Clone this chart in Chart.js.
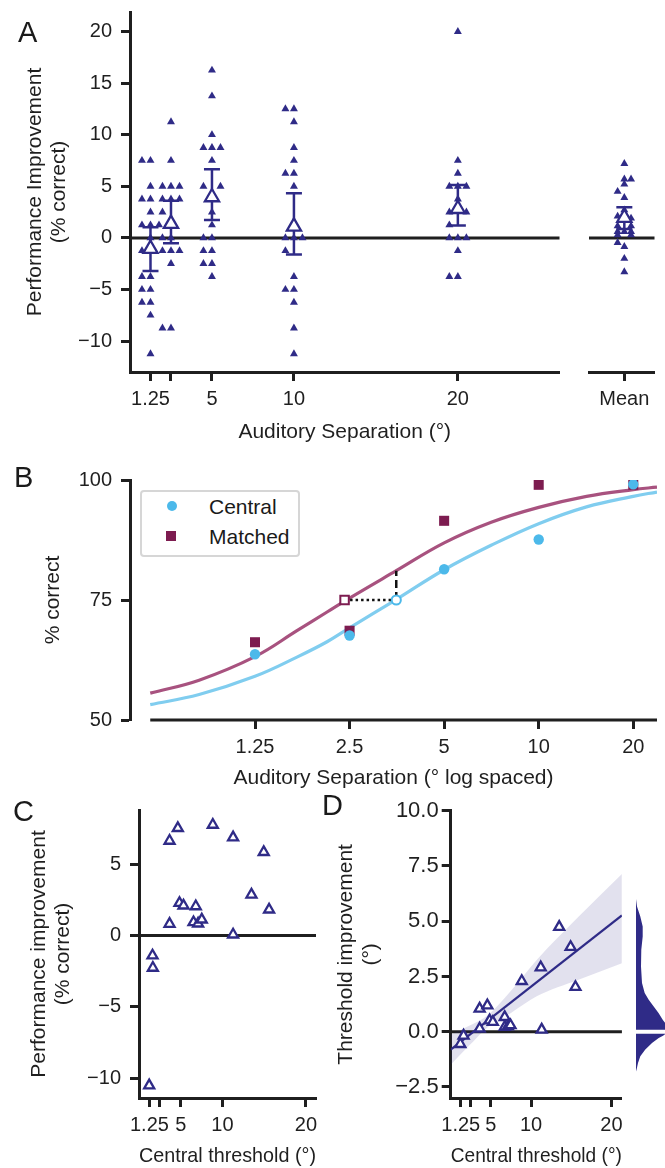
<!DOCTYPE html>
<html>
<head>
<meta charset="utf-8">
<title>Auditory separation figure</title>
<script src="https://cdn.jsdelivr.net/npm/chart.js@4.4.1/dist/chart.umd.min.js"></script>
<style>
  html, body { margin: 0; padding: 0; background: #fff; }
  body { position: relative; width: 665px; height: 1168px; overflow: hidden; font-family: "Liberation Sans", Arial, sans-serif; color: #1a1a1a; }
  canvas { position: absolute; }
  .panel { position: absolute; font-size: 29px; line-height: 29px; }
  .legend { position: absolute; left: 140px; top: 490px; width: 156px; height: 63px; border: 2px solid #d6d6d6; border-radius: 4px; background: #fff; }
  .key { position: absolute; font-size: 21px; line-height: 25px; white-space: nowrap; }
  .dot { position: absolute; width: 10px; height: 10px; }
</style>
</head>
<body>
<canvas id="chartA" style="left:0;top:0" width="570" height="460"></canvas>
<canvas id="chartMean" style="left:575px;top:0" width="90" height="460"></canvas>
<canvas id="chartB" style="left:0;top:440px" width="665" height="360"></canvas>
<canvas id="chartC" style="left:0;top:780px" width="330" height="388"></canvas>
<canvas id="chartD" style="left:330px;top:780px" width="300" height="388"></canvas>
<canvas id="chartKde" style="left:636px;top:780px" width="29" height="388"></canvas>

<div class="panel" style="left:18px;top:18px">A</div>
<div class="panel" style="left:14px;top:463px">B</div>
<div class="panel" style="left:13px;top:797px">C</div>
<div class="panel" style="left:322px;top:791px">D</div>

<div class="legend"></div>
<div class="dot" style="left:167px;top:501px;border-radius:50%;background:#4cb9ea"></div>
<div class="key" style="left:209px;top:494px">Central</div>
<div class="dot" style="left:166px;top:531px;background:#7d1c50"></div>
<div class="key" style="left:209px;top:524px">Matched</div>

<script>
// ---------- panel A: improvement per subject at each separation ----------
const sepTicks = [1.25, 2.5, 5, 10, 20];
const imp125 = [7.5, 7.5, 5, 3.75, 3.75, 2.5, 1.25, 1.25, 1.25, 0, -1.25, -1.25, -3.75, -3.75, -5, -5, -6.25, -6.25, -7.5, -11.25];
const slot125 = [-1, 0, 0, -1, 0, 0, -1, 0, 1, 0, -1, 0, -1, 0, -1, 0, -1, 0, 0, 0];
const imp25 = [11.25, 7.5, 5, 5, 5, 3.75, 3.75, 3.75, 2.5, 0, 0, -1.25, -1.25, -1.25, -2.5, -8.75, -8.75];
const slot25 = [0, 0, -1, 0, 1, -1, 0, 1, -1, -1, 0, -1, 0, 1, 0, -1, 0];
const imp5 = [16.25, 13.75, 10, 8.75, 8.75, 8.75, 7.5, 5, 5, 3.75, 2.5, 1.25, 0, 0, -1.25, -1.25, -2.5, -2.5, -3.75];
const slot5 = [0, 0, 0, -1, 0, 1, 0, -1, 1, 0, 0, 0, -1, 0, -1, 0, -1, 0, 0];
const imp10 = [12.5, 12.5, 11.25, 8.75, 7.5, 6.25, 6.25, 5, 0, 0, 0, -1.25, -3.75, -5, -5, -6.25, -8.75, -11.25];
const slot10 = [-1, 0, 0, 0, 0, -1, 0, 0, -1, 0, 1, -1, 0, -1, 0, 0, 0, 0];
const imp20 = [20, 7.5, 6.25, 5, 5, 5, 3.75, 2.5, 2.5, 1.25, 0, 0, 0, -1.25, -3.75, -3.75];
const slot20 = [0, 0, 0, -1, 0, 1, 0, -1, 1, -1, -1, 0, 1, 0, -1, 0];

const meanImp = [-1.05, 1.36, 3.95, 1.1, 2.81];
const semLow = [-3.2, -0.53, 1.74, -1.6, 1.2];
const semHigh = [1.03, 3.6, 6.65, 4.33, 5.13];

const subjMean = [7.2, 5.7, 5.7, 5.2, 4.5, 3.9, 2.7, 2.1, 1.9, 1.15, 1.15, 0.6, 0.6, 0.6, 0.28, 0.28, -0.46, -0.85, -2.0, -3.3];
const slotMean = [0, 0, 1, 0, -1, 0, 0, -1, 1, -1, 1, -1, 0, 1, -1, 1, -1, 0, 0, 0];
const grandMean = 1.96, grandLow = 0.86, grandHigh = 2.97;

// ---------- panel B: psychometric data and fitted curves ----------
const centralPct = [63.7, 67.6, 81.4, 87.6, 99.1];
const matchedPct = [66.2, 68.6, 91.5, 99.0, 99.0];
const curveSep = [0.58, 0.83, 1.25, 1.7, 2.12, 2.5, 3.52, 5, 7.06, 10, 14.2, 20, 23.8];
const centralFit = [53.2, 55.3, 59.1, 63.1, 66.3, 69.2, 75.1, 81.3, 86.4, 90.9, 94.4, 96.6, 97.5];
const matchedFit = [55.6, 58.3, 63.2, 68.6, 72.5, 75.4, 81.1, 86.9, 91.2, 94.3, 96.6, 98.0, 98.5];
const thrCentral = 3.52, thrMatched = 2.41, thrLevel = 75, matchedAtThr = 81.1;

// ---------- panel C: improvement vs central threshold ----------
const cThreshold = [1.22, 1.62, 1.66, 3.66, 4.65, 3.66, 4.85, 5.33, 6.8, 6.53, 7.08, 7.52, 8.84, 11.27, 11.27, 13.47, 14.94, 15.58];
const cImprove = [-10.5, -1.4, -2.26, 6.64, 7.53, 0.82, 2.28, 2.1, 2.05, 0.93, 0.84, 1.12, 7.76, 0.07, 6.88, 2.87, 5.85, 1.82];

// ---------- panel D: threshold improvement vs central threshold ----------
const dThreshold = [1.2, 1.6, 3.6, 3.6, 4.56, 4.84, 5.24, 6.72, 6.72, 7.12, 7.44, 8.84, 11.32, 11.2, 13.5, 14.92, 15.52];
const dImprove = [-0.56, -0.18, 0.14, 1.04, 1.19, 0.51, 0.44, 0.66, 0.21, 0.24, 0.29, 2.29, 0.09, 2.91, 4.74, 3.83, 2.02];
const fitX = [0, 21.3];
const fitY = [-0.81, 5.26];
const bandX = [0, 2.3, 4.7, 7.5, 10.7, 15.9, 21.3];
const bandHigh = [-0.13, 0.27, 0.77, 1.85, 3.25, 5.2, 7.14];
const bandLow = [-1.49, -0.63, 0.24, 0.85, 1.6, 2.35, 3.1];
// density of threshold improvement (width in px units), split at zero
const kdeUpperY = [6.0, 5.66, 5.21, 4.76, 4.31, 3.71, 2.95, 2.2, 1.75, 1.45, 1.14, 0.84, 0.54, 0.24, 0.09];
const kdeUpperW = [0, 1, 4.3, 6.7, 6.7, 5.3, 5, 6, 8.7, 12.7, 17.7, 22.7, 26.7, 32, 34];
const kdeLowerY = [-0.09, -0.18, -0.29, -0.51, -0.81, -1.11, -1.42, -1.69, -1.8];
const kdeLowerW = [30, 27, 22.7, 16, 9.3, 4.3, 2, 0.7, 0];

const navy = '#2f2b87';
const ink = '#1f1f1f';
const sky = '#4cb9ea', skyLine = '#80cdef';
const plum = '#7d1c50', plumLine = '#a8527f';

Chart.defaults.font.family = '"Liberation Sans", Arial, sans-serif';
Chart.defaults.color = ink;
Chart.defaults.animation = false;
Chart.defaults.responsive = false;
Chart.defaults.events = [];
Chart.defaults.plugins.legend.display = false;
Chart.defaults.plugins.tooltip.enabled = false;

const minusFmt = v => (v < 0 ? '\u2212' + Math.abs(v) : String(v));
const oneDecFmt = v => (v < 0 ? '\u2212' : '') + Math.abs(v).toFixed(1);
const sepFmt = v => (v === 2.5 ? '' : String(v));

function spine(o) {
  return {
    type: o.type || 'linear',
    min: o.min, max: o.max,
    border: {display: o.border !== false, color: ink, width: 3},
    grid: {display: true, drawOnChartArea: false, drawTicks: true, tickLength: 9, tickWidth: 3, tickColor: ink},
    ticks: {color: ink, font: {size: o.fontSize || 20}, padding: o.pad, autoSkip: false, maxRotation: 0, minRotation: 0, callback: o.fmt},
    title: o.title ? {display: true, text: o.title, color: ink, font: {size: 21, lineHeight: 1.15}, padding: o.titlePad} : {display: false},
    afterBuildTicks: s => { s.ticks = o.tickValues.map(v => ({value: v})); },
    afterFit: s => {
      if (s.isHorizontal()) { s.height = o.size; s.paddingLeft = 0; s.paddingRight = 0; }
      else { s.width = o.size; s.paddingTop = 0; s.paddingBottom = 0; }
    }
  };
}

const zeroLine = {
  id: 'zeroLine',
  beforeDatasetsDraw(chart) {
    const {ctx, chartArea: a, scales: {y}} = chart;
    const py = y.getPixelForValue(0);
    ctx.save();
    ctx.strokeStyle = ink;
    ctx.lineWidth = 3;
    ctx.beginPath();
    ctx.moveTo(a.left, py);
    ctx.lineTo(a.right, py);
    ctx.stroke();
    ctx.restore();
  }
};

const trimmedXSpine = {
  id: 'trimmedXSpine',
  afterDraw(chart, args, opts) {
    const {ctx, chartArea: a, scales: {x}} = chart;
    ctx.save();
    ctx.strokeStyle = ink;
    ctx.lineWidth = 3;
    ctx.beginPath();
    ctx.moveTo(x.getPixelForValue(opts.from), a.bottom);
    ctx.lineTo(a.right, a.bottom);
    ctx.stroke();
    ctx.restore();
  }
};

function errorBar(x, lo, hi) {
  return {data: [{x: x, y: lo}, {x: x, y: hi}], showLine: true, borderColor: navy, borderWidth: 2.5,
    pointStyle: 'line', pointRadius: 8, pointBorderWidth: 2.5, pointBorderColor: navy, order: 1};
}

function openTriangles(points, r) {
  return {data: points, pointStyle: 'triangle', pointRadius: r, pointBorderWidth: 2.3,
    pointBorderColor: navy, pointBackgroundColor: '#fff', order: 0};
}

// ----- A -----
const cols = [imp125, imp25, imp5, imp10, imp20];
const slots = [slot125, slot25, slot5, slot10, slot20];
const subjectPoints = cols.flatMap((vals, c) => vals.map((v, i) => ({x: sepTicks[c] + slots[c][i] * 0.52, y: v})));

new Chart(document.getElementById('chartA'), {
  type: 'scatter',
  data: {datasets: [
    openTriangles(sepTicks.map((s, i) => ({x: s, y: meanImp[i]})), 8.2),
    ...sepTicks.map((s, i) => errorBar(s, semLow[i], semHigh[i])),
    {data: subjectPoints, pointStyle: 'triangle', pointRadius: 4.6, pointBorderWidth: 0, pointBackgroundColor: navy, order: 2}
  ]},
  options: {
    layout: {padding: {top: 12, right: 3, left: 0, bottom: 0}},
    scales: {
      x: spine({min: 0, max: 26.2, tickValues: sepTicks, fmt: sepFmt, size: 88, pad: 6,
        title: 'Auditory Separation (°)', titlePad: {top: 0, bottom: 15.9}}),
      y: spine({min: -13, max: 21.9, tickValues: [-10, -5, 0, 5, 10, 15, 20], fmt: minusFmt, size: 130, pad: 9,
        title: ['Performance Improvement', '(% correct)'], titlePad: {top: 22.9, bottom: 0}})
    }
  },
  plugins: [zeroLine]
});

new Chart(document.getElementById('chartMean'), {
  type: 'scatter',
  data: {datasets: [
    openTriangles([{x: 1, y: grandMean}], 8.2),
    errorBar(1, grandLow, grandHigh),
    {data: subjMean.map((v, i) => ({x: 1 + slotMean[i] * 0.19, y: v})), pointStyle: 'triangle', pointRadius: 4.6,
      pointBorderWidth: 0, pointBackgroundColor: navy, order: 2}
  ]},
  options: {
    layout: {padding: {top: 12, right: 0, left: 14, bottom: 0}},
    scales: {
      x: spine({min: 0, max: 1.854, tickValues: [1], fmt: () => 'Mean', size: 88, pad: 6}),
      y: {display: false, min: -13, max: 21.9}
    }
  },
  plugins: [zeroLine]
});

// ----- B -----
new Chart(document.getElementById('chartB'), {
  type: 'scatter',
  data: {datasets: [
    {data: [{x: thrCentral, y: thrLevel}], pointStyle: 'circle', pointRadius: 4.6, pointBorderWidth: 2,
      pointBorderColor: sky, pointBackgroundColor: '#fff', order: 0},
    {data: [{x: thrMatched, y: thrLevel}], pointStyle: 'rect', pointRadius: 6, pointBorderWidth: 2,
      pointBorderColor: plum, pointBackgroundColor: '#fff', order: 0},
    {data: sepTicks.map((s, i) => ({x: s, y: centralPct[i]})), pointStyle: 'circle', pointRadius: 5.2,
      pointBorderWidth: 0, pointBackgroundColor: sky, order: 1},
    {data: sepTicks.map((s, i) => ({x: s, y: matchedPct[i]})), pointStyle: 'rect', pointRadius: 7.1,
      pointBorderWidth: 0, pointBackgroundColor: plum, order: 2},
    {data: [{x: thrMatched, y: thrLevel}, {x: thrCentral, y: thrLevel}], showLine: true, borderColor: '#111',
      borderWidth: 2.5, borderDash: [2.5, 3], pointRadius: 0, order: 3},
    {data: [{x: thrCentral, y: thrLevel}, {x: thrCentral, y: matchedAtThr}], showLine: true, borderColor: '#111',
      borderWidth: 2.5, borderDash: [8, 4], pointRadius: 0, order: 3},
    {data: curveSep.map((s, i) => ({x: s, y: centralFit[i]})), showLine: true, borderColor: skyLine, borderWidth: 3.2,
      tension: 0.4, pointRadius: 0, order: 4},
    {data: curveSep.map((s, i) => ({x: s, y: matchedFit[i]})), showLine: true, borderColor: plumLine, borderWidth: 3.2,
      tension: 0.4, pointRadius: 0, order: 4}
  ]},
  options: {
    layout: {padding: {top: 40, right: 0, left: 0, bottom: 0}},
    plugins: {trimmedXSpine: {from: curveSep[0]}},
    scales: {
      x: spine({type: 'logarithmic', min: 0.5, max: 23.8, tickValues: sepTicks, fmt: v => String(v), size: 80, pad: 6,
        border: false, title: 'Auditory Separation (° log spaced)', titlePad: {top: 0, bottom: 9.9}}),
      y: spine({min: 50, max: 100, tickValues: [50, 75, 100], fmt: v => String(v), size: 130, pad: 9,
        title: '% correct', titlePad: {top: 41, bottom: 0}})
    }
  },
  plugins: [trimmedXSpine]
});

// ----- C -----
new Chart(document.getElementById('chartC'), {
  type: 'scatter',
  data: {datasets: [
    openTriangles(cThreshold.map((t, i) => ({x: t, y: cImprove[i]})), 5.8)
  ]},
  options: {
    layout: {padding: {top: 30, right: 14, left: 0, bottom: 0}},
    scales: {
      x: spine({min: 0, max: 21.2, tickValues: sepTicks, fmt: sepFmt, size: 70, pad: 6,
        title: 'Central threshold (°)', titlePad: {top: 0, bottom: 0}}),
      y: spine({min: -11.38, max: 8.8, tickValues: [-10, -5, 0, 5], fmt: minusFmt, size: 139, pad: 9,
        title: ['Performance improvement', '(% correct)'], titlePad: {top: 27.4, bottom: 0}})
    }
  },
  plugins: [zeroLine]
});

// ----- D -----
new Chart(document.getElementById('chartD'), {
  type: 'scatter',
  data: {datasets: [
    openTriangles(dThreshold.map((t, i) => ({x: t, y: dImprove[i]})), 5.8),
    {data: fitX.map((x, i) => ({x: x, y: fitY[i]})), showLine: true, borderColor: navy, borderWidth: 2.2, pointRadius: 0, order: 1},
    {data: bandX.map((x, i) => ({x: x, y: bandHigh[i]})), showLine: true, borderWidth: 0, pointRadius: 0,
      cubicInterpolationMode: 'monotone', fill: '+1', backgroundColor: 'rgba(47,43,135,0.14)', order: 2},
    {data: bandX.map((x, i) => ({x: x, y: bandLow[i]})), showLine: true, borderWidth: 0, pointRadius: 0,
      cubicInterpolationMode: 'monotone', fill: false, order: 3}
  ]},
  options: {
    layout: {padding: {top: 30.7, right: 1.7, left: 0, bottom: 0}},
    scales: {
      x: spine({min: 0, max: 21.3, tickValues: sepTicks, fmt: sepFmt, size: 70, pad: 6,
        title: 'Central threshold (°)', titlePad: {top: 0, bottom: 0}}),
      y: spine({min: -3, max: 10, tickValues: [-2.5, 0, 2.5, 5, 7.5, 10], fmt: oneDecFmt, size: 120.7, pad: 3, fontSize: 22,
        title: ['Threshold improvement', '(°)'], titlePad: {top: 4.6, bottom: 0}})
    }
  },
  plugins: [zeroLine]
});

// marginal density beside D
new Chart(document.getElementById('chartKde'), {
  type: 'scatter',
  data: {datasets: [
    {data: [{x: 0, y: kdeUpperY[0]}, ...kdeUpperW.map((w, i) => ({x: w, y: kdeUpperY[i]})), {x: 0, y: kdeUpperY[kdeUpperY.length - 1]}],
      showLine: true, borderWidth: 0, pointRadius: 0, fill: 'shape', backgroundColor: navy},
    {data: [{x: 0, y: kdeLowerY[0]}, ...kdeLowerW.map((w, i) => ({x: w, y: kdeLowerY[i]})), {x: 0, y: kdeLowerY[kdeLowerY.length - 1]}],
      showLine: true, borderWidth: 0, pointRadius: 0, fill: 'shape', backgroundColor: navy}
  ]},
  options: {
    layout: {padding: {top: 30.7, right: 0, left: 0, bottom: 70}},
    scales: {
      x: {display: false, min: 0, max: 29},
      y: {display: false, min: -3, max: 10}
    }
  }
});
</script>
</body>
</html>
